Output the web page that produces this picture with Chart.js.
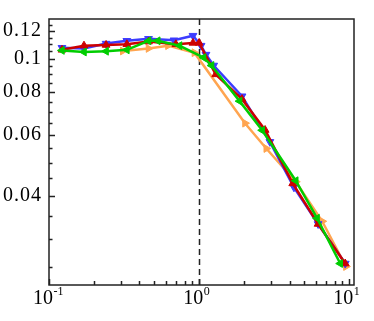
<!DOCTYPE html>
<html><head><meta charset="utf-8">
<script src="https://cdn.jsdelivr.net/npm/chart.js@4/dist/chart.umd.min.js"></script>
<style>html,body{margin:0;padding:0;background:#fff;}#wrap{width:374px;height:321px;position:relative;}</style>
</head><body><div id="wrap"><canvas id="c"></canvas></div>
<script>
// ---- data ----
const blueX   = [0.122, 0.171, 0.24, 0.33, 0.46, 0.68, 0.91, 1.03, 1.11, 1.25, 1.93, 2.96, 4.28, 6.2, 9.4];
const blueY   = [0.1075, 0.107, 0.1105, 0.1126, 0.1141, 0.113, 0.1165, 0.109, 0.1027, 0.0955, 0.0778, 0.0574, 0.0424, 0.0332, 0.0255];
const redX    = [0.122, 0.171, 0.24, 0.33, 0.46, 0.70, 0.91, 1.0, 1.29, 1.93, 2.75, 4.2, 6.2, 9.4];
const redY    = [0.106, 0.109, 0.1095, 0.110, 0.112, 0.110, 0.111, 0.111, 0.090, 0.0763, 0.0621, 0.0435, 0.0332, 0.0255];
const greenX  = [0.122, 0.171, 0.24, 0.33, 0.46, 0.53, 0.74, 1.07, 1.21, 1.86, 2.63, 4.4, 6.1, 8.7];
const greenY  = [0.1056, 0.1045, 0.105, 0.106, 0.1126, 0.1126, 0.109, 0.1007, 0.0955, 0.0753, 0.062, 0.0443, 0.0345, 0.0255];
const orangeX = [0.31, 0.46, 0.62, 0.93, 2.02, 2.8, 4.4, 6.6, 9.5];
const orangeY = [0.1052, 0.107, 0.109, 0.104, 0.065, 0.0549, 0.044, 0.0338, 0.025];

const yTicks = [0.025,0.03,0.035,0.04,0.045,0.05,0.055,0.06,0.065,0.07,0.075,0.08,0.085,0.09,0.095,0.1,0.105,0.11,0.115,0.12,0.125];
const yTickLabels = [0.04, 0.06, 0.08, 0.1, 0.12];
const xMajorTicks = [0.1, 1, 10];
const xTickExponents = ['-1', '0', '1'];
const xMinorTicks = [0.2,0.3,0.4,0.5,0.6,0.7,0.8,0.9,2,3,4,5,6,7,8,9];
const refLineX = 1;

function pts(xs, ys){ return xs.map((x,i)=>({x:x, y:ys[i]})); }

const SERIF = '"Liberation Serif","Times New Roman",serif';

const decor = {
  id:'decor',
  beforeDraw(chart){ chart.ctx.letterSpacing = '1px'; },
  beforeDatasetsDraw(chart){
    const ctx = chart.ctx; ctx.letterSpacing = '0px';
    const a = chart.chartArea, xs = chart.scales.x;
    ctx.save();
    ctx.strokeStyle = '#222'; ctx.lineWidth = 1.5; ctx.setLineDash([6,4]);
    const px = Math.round(xs.getPixelForValue(refLineX)) + 0.5;
    ctx.beginPath(); ctx.moveTo(px, a.top); ctx.lineTo(px, a.bottom); ctx.stroke();
    ctx.restore();
  },
  afterDraw(chart){
    const ctx = chart.ctx; ctx.letterSpacing = '0px';
    const a = chart.chartArea, xs = chart.scales.x, ys = chart.scales.y;
    ctx.save();
    ctx.strokeStyle = '#222'; ctx.lineWidth = 1.5;
    ctx.beginPath();
    yTicks.forEach(v=>{
      const py = Math.round(ys.getPixelForValue(v)) + 0.5;
      const len = yTickLabels.includes(v) ? 6 : 3.5;
      ctx.moveTo(a.left, py); ctx.lineTo(a.left + len, py);
    });
    xMinorTicks.forEach(v=>{
      const p = Math.round(xs.getPixelForValue(v)) + 0.5;
      ctx.moveTo(p, a.bottom); ctx.lineTo(p, a.bottom - 4);
    });
    xMajorTicks.forEach(v=>{
      const p = Math.round(xs.getPixelForValue(v)) + 0.5;
      ctx.moveTo(p, a.bottom); ctx.lineTo(p, a.bottom - 6);
    });
    ctx.stroke();
    ctx.strokeRect(a.left, a.top, a.right - a.left, a.bottom - a.top);
    ctx.fillStyle = '#000';
    xMajorTicks.forEach((v,i)=>{
      const p = xs.getPixelForValue(v);
      ctx.font = '20px ' + SERIF; ctx.textAlign = 'right'; ctx.textBaseline = 'alphabetic';
      ctx.fillText('10', p + 4, 304);
      ctx.font = '12px ' + SERIF; ctx.textAlign = 'left';
      ctx.fillText(xTickExponents[i], p + 4.5, 295);
    });
    ctx.restore();
  }
};

function ds(label, xs, ys, color, rot, order){
  return {label, data: pts(xs, ys), borderColor: color, backgroundColor: color,
    borderWidth: 2.5, pointStyle: 'triangle', pointRotation: rot, pointRadius: 4.5,
    pointBorderWidth: 1, showLine: true, tension: 0, order};
}

new Chart(document.getElementById('c'), {
  type: 'scatter',
  data: { datasets: [
    ds('blue', blueX, blueY, 'rgb(60,60,255)', 180, 2),
    ds('red', redX, redY, 'rgb(205,0,0)', 0, 1),
    ds('green', greenX, greenY, 'rgb(0,205,0)', 270, 0),
    ds('orange', orangeX, orangeY, 'rgb(255,165,80)', 90, 3)
  ]},
  options: {
    responsive: true, maintainAspectRatio: false, animation: false,
    layout: { padding: { top: 16, right: 20, left: 0, bottom: 0 } },
    plugins: { legend: {display:false}, tooltip: {enabled:false} },
    scales: {
      x: { type: 'logarithmic', min: 0.1, max: 10.75,
        grid: {display:false, drawTicks:false}, border: {display:false},
        ticks: {display:false},
        afterFit(s){ s.height = 36; } },
      y: { type: 'logarithmic', min: 0.0221, max: 0.1302,
        grid: {display:false, drawTicks:false}, border: {display:false},
        afterBuildTicks(s){ s.ticks = yTicks.map(v=>({value:v})); },
        ticks: { autoSkip:false, padding: 7, color:'#000',
          font: {family: SERIF, size: 20},
          callback(v){ return yTickLabels.includes(v) ? String(v) : ''; } },
        afterFit(s){ s.width = 49; } }
    }
  },
  plugins: [decor]
});
</script>
</body></html>
